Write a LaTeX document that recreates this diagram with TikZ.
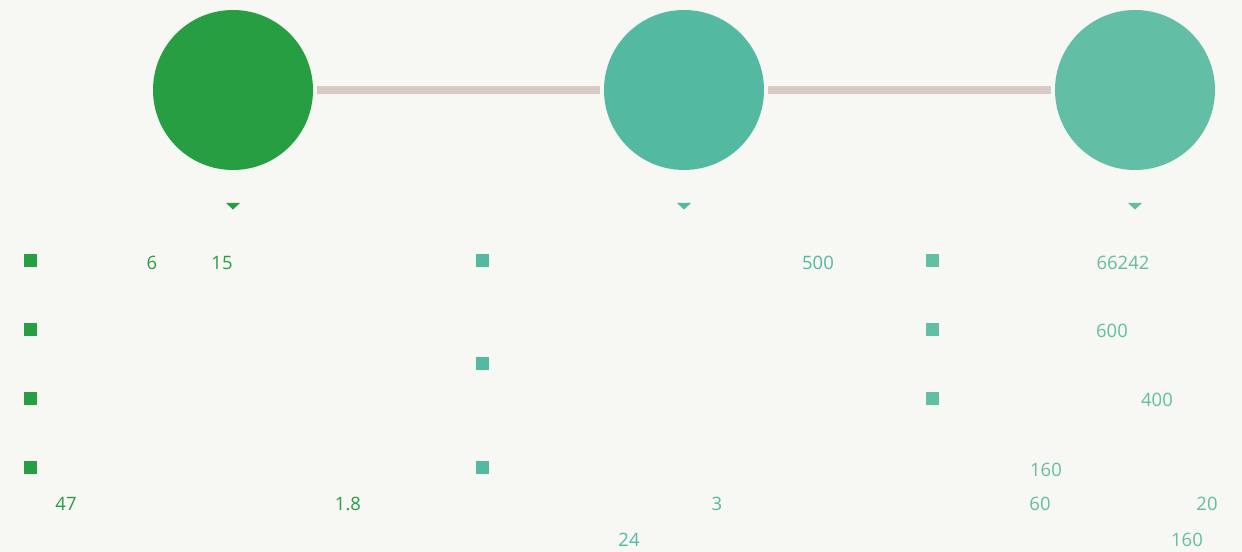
\documentclass[tikz,border=0pt]{standalone}
\usepackage{fontspec}
\setmainfont{Open Sans}
\usetikzlibrary{positioning, calc}
\definecolor{bgpaper}{HTML}{F7F7F3}
\definecolor{leafgreen}{HTML}{289E43}
\definecolor{jade}{HTML}{53B9A1}
\definecolor{mint}{HTML}{62BEA4}
\definecolor{linkbeige}{HTML}{D9CBC3}

\begin{document}
\begin{tikzpicture}[
  stage/.style={circle, fill=#1, minimum size=32mm, inner sep=0pt, outer sep=0pt},
  bullet/.style={rectangle, fill=#1, minimum size=2.6mm, inner sep=0pt},
  num/.style={font=\fontsize{10.5}{12}\selectfont, text=#1, inner sep=0pt},
  link/.style={line width=4.5pt, linkbeige, shorten <=2pt, shorten >=2pt},
]

% Background canvas
\fill[bgpaper] (0,0) rectangle (24.84,-11.04);
\useasboundingbox (0,0) rectangle (24.84,-11.04);

% === Stages ===
\node[stage=leafgreen] (stage1) at (4.66,-1.8) {};
\node[stage=jade] (stage2) at (13.68,-1.8) {};
\node[stage=mint] (stage3) at (22.70,-1.8) {};

% === Links between stages ===
\draw[link] (stage1) -- (stage2);
\draw[link] (stage2) -- (stage3);

% === Markers under stages ===
\coordinate (mark1) at (4.66,-4.12);
\coordinate (mark2) at (13.68,-4.12);
\coordinate (mark3) at (22.70,-4.12);
\fill[leafgreen] ($(mark1)+(-0.14,0.06)$) -- ($(mark1)+(0.14,0.06)$) -- ($(mark1)+(0,-0.07)$) -- cycle;
\fill[jade] ($(mark2)+(-0.14,0.06)$) -- ($(mark2)+(0.14,0.06)$) -- ($(mark2)+(0,-0.07)$) -- cycle;
\fill[mint] ($(mark3)+(-0.14,0.06)$) -- ($(mark3)+(0.14,0.06)$) -- ($(mark3)+(0,-0.07)$) -- cycle;

% === Column 1 (leafgreen) ===
\node[bullet=leafgreen] (b11) at (0.62,-5.22) {};
\node[bullet=leafgreen] (b12) at (0.62,-6.60) {};
\node[bullet=leafgreen] (b13) at (0.62,-7.98) {};
\node[bullet=leafgreen] (b14) at (0.62,-9.36) {};
\node[num=leafgreen] (n11) at (3.04,-5.26) {6};
\node[num=leafgreen] (n12) at (4.44,-5.26) {15};
\node[num=leafgreen] (n13) at (1.32,-10.08) {47};
\node[num=leafgreen] (n14) at (6.96,-10.08) {1.8};

% === Column 2 (jade) ===
\node[bullet=jade] (b21) at (9.64,-5.22) {};
\node[bullet=jade] (b22) at (9.64,-7.28) {};
\node[bullet=jade] (b23) at (9.64,-9.36) {};
\node[num=jade] (n21) at (16.36,-5.26) {500};
\node[num=jade] (n22) at (14.34,-10.08) {3};
\node[num=jade] (n23) at (12.58,-10.80) {24};

% === Column 3 (mint) ===
\node[bullet=mint] (b31) at (18.64,-5.22) {};
\node[bullet=mint] (b32) at (18.64,-6.60) {};
\node[bullet=mint] (b33) at (18.64,-7.98) {};
\node[num=mint] (n31) at (22.46,-5.26) {66242};
\node[num=mint] (n32) at (22.24,-6.62) {600};
\node[num=mint] (n33) at (23.14,-8.00) {400};
\node[num=mint] (n34) at (20.92,-9.40) {160};
\node[num=mint] (n35) at (20.80,-10.08) {60};
\node[num=mint] (n36) at (24.14,-10.08) {20};
\node[num=mint] (n37) at (23.74,-10.80) {160};

\end{tikzpicture}
\end{document}
